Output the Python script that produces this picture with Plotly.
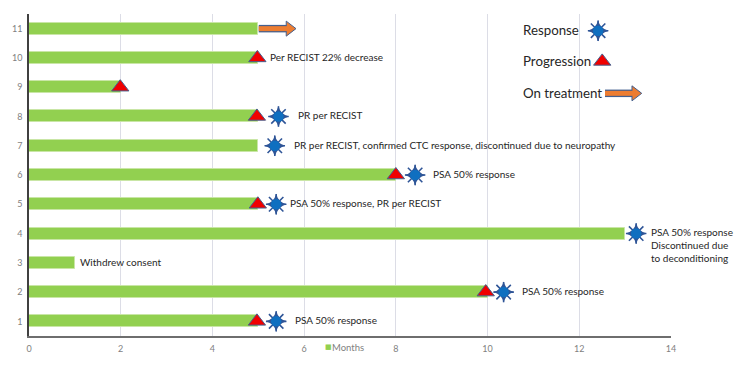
import plotly.graph_objects as go

patients = [1, 2, 3, 4, 5, 6, 7, 8, 9, 10, 11]
months = [5, 10, 1, 13, 5, 8, 5, 5, 2, 5, 5]

progression_x = [4.97, 9.96, 4.99, 8.0, 4.97, 1.99, 4.98]
progression_y = [1, 2, 5, 6, 8, 9, 10]
response_x = [5.39, 10.35, 13.24, 5.39, 8.42, 5.36, 5.44]
response_y = [1, 2, 4, 5, 6, 7, 8]

arrow_x = [[5.01, 5.78], [12.56, 13.32]]
arrow_y = [11, 8.79]

note_texts = [
    "PSA 50% response", "PSA 50% response", "Withdrew consent",
    "PSA 50% response<br>Discontinued due<br>to deconditioning",
    "PSA 50% response, PR per RECIST", "PSA 50% response",
    "PR per RECIST, confirmed CTC response, discontinued due to neuropathy",
    "PR per RECIST", "Per RECIST 22% decrease",
]
note_x = [5.75, 10.71, 1.06, 13.53, 5.64, 8.76, 5.73, 5.83, 5.21]
note_y = [1, 2, 3, 3.57, 5, 6, 7, 8, 10]

key_texts = ["Response", "Progression", "On treatment"]
key_x = [10.72, 10.72, 10.72]
key_y = [10.93, 9.85, 8.76]
key_star = ([12.41], [10.93])
key_triangle = ([12.5], [9.88])

series_name = "Months"
series_key_x = 6.41
series_label_x = 6.57
series_key_y = -0.035

GREEN = "#92D050"
BLUE = "#0F6FC0"
NAVY = "#2F5597"
RED = "#F00000"
ORANGE = "#ED7D31"
EDGE = "#44608F"
FONT = "Lato"

fig = go.Figure()
fig.add_trace(go.Bar(
    y=patients, x=months, orientation="h", name=series_name, width=0.41,
    marker=dict(color=GREEN, line=dict(color="#C9E6A6", width=1)),
    hoverinfo="skip", showlegend=False,
))


def stars(x, y):
    fig.add_trace(go.Scatter(x=x, y=y, mode="markers", showlegend=False, hoverinfo="skip",
                             marker=dict(symbol="asterisk-open", size=17, color=NAVY,
                                         line=dict(color=NAVY, width=1.6))))
    fig.add_trace(go.Scatter(x=x, y=y, mode="markers", showlegend=False, hoverinfo="skip",
                             marker=dict(symbol="star-diamond", size=15, color=NAVY, line=dict(width=0))))
    fig.add_trace(go.Scatter(x=x, y=y, mode="markers", showlegend=False, hoverinfo="skip",
                             marker=dict(symbol="circle", size=10.5, color=BLUE, line=dict(width=0))))


def triangles(x, y):
    fig.add_trace(go.Scatter(x=x, y=y, mode="markers", showlegend=False, hoverinfo="skip",
                             marker=dict(symbol="triangle-up", size=15, color=RED,
                                         line=dict(color=EDGE, width=1))))


def arrow(x, y):
    xs, ys = [x[0], x[1] - 0.1], [y, y]
    fig.add_trace(go.Scatter(x=xs, y=ys, mode="lines", showlegend=False, hoverinfo="skip",
                             line=dict(color=EDGE, width=7.5)))
    fig.add_trace(go.Scatter(x=[x[1] - 0.1], y=[y], mode="markers", showlegend=False, hoverinfo="skip",
                             marker=dict(symbol="triangle-right", size=13, color=ORANGE,
                                         line=dict(color=EDGE, width=1))))
    fig.add_trace(go.Scatter(x=xs, y=ys, mode="lines", showlegend=False, hoverinfo="skip",
                             line=dict(color=ORANGE, width=5)))


triangles(progression_x, progression_y)
stars(response_x, response_y)
for ax, ay in zip(arrow_x, arrow_y):
    arrow(ax, ay)
stars(*key_star)
triangles(*key_triangle)

fig.add_annotation(x=series_key_x, xref="x", y=series_key_y, yref="paper", yanchor="middle", text="■",
                   showarrow=False, xanchor="left", font=dict(family="DejaVu Sans", size=7, color=GREEN))
fig.add_annotation(x=series_label_x, xref="x", y=series_key_y, yref="paper", yanchor="middle", text=series_name,
                   showarrow=False, xanchor="left", font=dict(family=FONT, size=9.5, color="#7F7F7F"))

for t, x, y in zip(note_texts, note_x, note_y):
    fig.add_annotation(x=x, y=y, yshift=1, text=t, showarrow=False, xanchor="left", align="left",
                       font=dict(family=FONT, size=10, color="#262626"))
for t, x, y in zip(key_texts, key_x, key_y):
    fig.add_annotation(x=x, y=y, yshift=1, text=t, showarrow=False, xanchor="left",
                       font=dict(family=FONT, size=13.3, color="#262626"))

fig.update_layout(
    width=739, height=366, autosize=False,
    margin=dict(l=28.5, r=68, t=13.5, b=29.5, autoexpand=False),
    paper_bgcolor="white", plot_bgcolor="white",
    font=dict(family=FONT, size=9, color="#7F7F7F"),
    showlegend=False,
    bargap=0,
)
fig.update_xaxes(range=[0, 14], tickvals=[0, 2, 4, 6, 8, 10, 12, 14], showgrid=True,
                 gridcolor="#DCDDE6", gridwidth=1, zeroline=False,
                 showline=True, linecolor="#6E6E6E", linewidth=1.5,
                 ticks="outside", ticklen=3, tickcolor="rgba(0,0,0,0)")
fig.update_yaxes(range=[0.5, 11.5], tickvals=patients, ticktext=[str(p) for p in patients],
                 showgrid=False, zeroline=False, showline=True, linecolor="#404040",
                 linewidth=1.5, ticks="outside", ticklen=3, tickcolor="rgba(0,0,0,0)")

fig.write_html("out.html", config={"displayModeBar": False},
               post_script="document.body.style.margin='0';document.documentElement.style.overflow='hidden';")
